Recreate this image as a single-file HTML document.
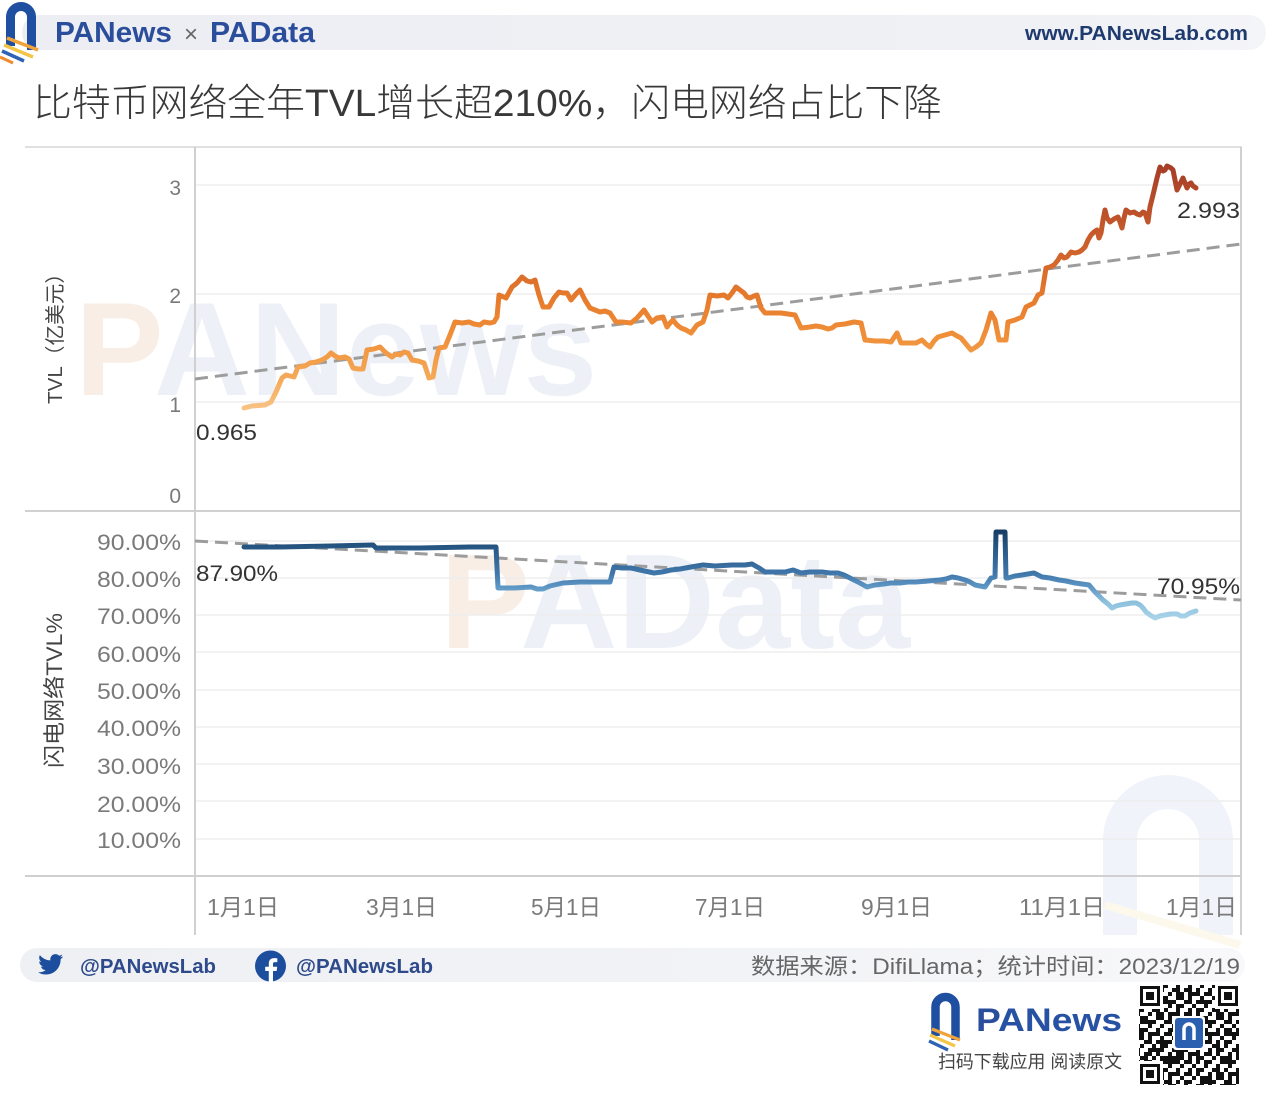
<!DOCTYPE html>
<html><head><meta charset="utf-8"><style>
html,body{margin:0;padding:0;background:#fff;}
svg{display:block;}
text{font-family:"Liberation Sans","Noto Sans CJK SC",sans-serif;}
</style></head><body>
<svg width="1267" height="1097" viewBox="0 0 1267 1097" xmlns="http://www.w3.org/2000/svg">
<defs>
<linearGradient id="hb" x1="0" y1="0" x2="1" y2="0"><stop offset="0" stop-color="#eceef3"/><stop offset="0.85" stop-color="#f0f1f5"/><stop offset="1" stop-color="#f4f5f8"/></linearGradient>
<linearGradient id="fb" x1="0" y1="0" x2="1" y2="0"><stop offset="0" stop-color="#eef0f4"/><stop offset="0.6" stop-color="#f2f3f6"/><stop offset="1" stop-color="#f8f8fa"/></linearGradient>
<linearGradient id="pg" x1="0" y1="0" x2="1" y2="0"><stop offset="0" stop-color="#2a4d9c"/><stop offset="0.3" stop-color="#2a4d9c"/><stop offset="0.3" stop-color="#e58b2b"/><stop offset="1" stop-color="#e58b2b"/></linearGradient>
<linearGradient id="go" gradientUnits="userSpaceOnUse" x1="0" y1="412" x2="0" y2="165">
<stop offset="0" stop-color="#f8c58a"/><stop offset="0.12" stop-color="#f5ac5c"/><stop offset="0.3" stop-color="#f0903a"/><stop offset="0.45" stop-color="#e77c2c"/><stop offset="0.65" stop-color="#cf622b"/><stop offset="1" stop-color="#a53d28"/>
</linearGradient>
<linearGradient id="gb" gradientUnits="userSpaceOnUse" x1="0" y1="620" x2="0" y2="530">
<stop offset="0" stop-color="#acd5ea"/><stop offset="0.2" stop-color="#8cc0dc"/><stop offset="0.38" stop-color="#5b93c2"/><stop offset="0.52" stop-color="#3f76a9"/><stop offset="0.75" stop-color="#2c5d8c"/><stop offset="1" stop-color="#163c64"/>
</linearGradient>
<pattern id="q1" width="12" height="12" patternUnits="userSpaceOnUse"><rect x="0" y="0" width="4" height="4" fill="#111"/><rect x="8" y="4" width="4" height="4" fill="#111"/><rect x="4" y="8" width="4" height="4" fill="#111"/></pattern>
<pattern id="q2" width="20" height="20" patternUnits="userSpaceOnUse"><rect x="4" y="0" width="8" height="4" fill="#111"/><rect x="16" y="8" width="4" height="8" fill="#111"/><rect x="0" y="16" width="4" height="4" fill="#111"/><rect x="8" y="12" width="4" height="4" fill="#111"/></pattern>
<pattern id="q3" width="28" height="28" patternUnits="userSpaceOnUse"><rect x="12" y="4" width="4" height="8" fill="#111"/><rect x="20" y="20" width="8" height="4" fill="#111"/><rect x="0" y="24" width="4" height="4" fill="#111"/><rect x="4" y="12" width="4" height="4" fill="#111"/></pattern>
</defs>

<!-- header -->
<rect x="22" y="15" width="1244" height="35" rx="17" fill="url(#hb)"/>
<g fill="none" stroke-linecap="butt">
<path d="M10.5,46 V17 A10.5,10.5 0 0 1 31.5,17 V50" stroke="#1f4fa0" stroke-width="9"/>
<line x1="7" y1="38" x2="38" y2="50" stroke="#f0a33a" stroke-width="3.5"/>
<line x1="4" y1="45" x2="33" y2="57" stroke="#f3c64a" stroke-width="3.5"/>
<line x1="2" y1="51" x2="24" y2="61" stroke="#2f62b3" stroke-width="3.5"/>
<line x1="0" y1="57" x2="13" y2="63" stroke="#f08a2a" stroke-width="3"/>
</g>
<text x="55" y="42" font-size="29" font-weight="bold" fill="#2a4d9c" textLength="117" lengthAdjust="spacingAndGlyphs"><tspan fill="url(#pg)">P</tspan>ANews</text>
<text x="184" y="42" font-size="24" fill="#666">×</text>
<text x="210" y="42" font-size="29" font-weight="bold" fill="#2a4d9c" textLength="105" lengthAdjust="spacingAndGlyphs"><tspan fill="url(#pg)">P</tspan>AData</text>
<text x="1025" y="40" font-size="20.5" font-weight="bold" fill="#1f3a6e" textLength="223" lengthAdjust="spacingAndGlyphs">www.PANewsLab.com</text>

<!-- title -->
<text x="33" y="116" font-size="38" fill="#383838" font-weight="300" textLength="909" lengthAdjust="spacingAndGlyphs">比特币网络全年TVL增长超210%，闪电网络占比下降</text>

<!-- watermarks -->
<text x="75" y="395" font-size="133" font-weight="bold" fill="#e9eef6" opacity="0.8"><tspan fill="#f8ebdf">P</tspan>ANews</text>
<text x="440" y="648" font-size="135" font-weight="bold" fill="#e9eef6" opacity="0.8"><tspan fill="#f8ebdf">P</tspan>AData</text>
<path d="M1120,935 V840 A48,48 0 0 1 1216,840 V935" fill="none" stroke="#f0f3f9" stroke-width="34"/>
<line x1="1105" y1="905" x2="1240" y2="945" stroke="#fdf8ec" stroke-width="8"/>

<!-- gridlines -->
<g stroke="#eeeeee" stroke-width="1.5">
<line x1="196" y1="185" x2="1240" y2="185"/><line x1="196" y1="294" x2="1240" y2="294"/><line x1="196" y1="402" x2="1240" y2="402"/>
<line x1="196" y1="541" x2="1240" y2="541"/><line x1="196" y1="578" x2="1240" y2="578"/><line x1="196" y1="615" x2="1240" y2="615"/><line x1="196" y1="652" x2="1240" y2="652"/><line x1="196" y1="690" x2="1240" y2="690"/><line x1="196" y1="727" x2="1240" y2="727"/><line x1="196" y1="764" x2="1240" y2="764"/><line x1="196" y1="801" x2="1240" y2="801"/><line x1="196" y1="839" x2="1240" y2="839"/>
</g>
<!-- frame -->
<g stroke="#d0d0d0" stroke-width="2">
<line x1="25" y1="147" x2="1242" y2="147" stroke="#e0e0e0"/>
<line x1="25" y1="511" x2="1242" y2="511"/>
<line x1="25" y1="876" x2="1242" y2="876"/>
<line x1="195" y1="147" x2="195" y2="935"/>
<line x1="1241" y1="147" x2="1241" y2="935"/>
</g>

<!-- y tick labels -->
<g font-size="21" fill="#7a7a7a" text-anchor="end">
<text x="181" y="195">3</text><text x="181" y="303">2</text><text x="181" y="412">1</text><text x="181" y="503">0</text>
</g>
<g font-size="22" fill="#7a7a7a">
<text x="97" y="550" textLength="84" lengthAdjust="spacingAndGlyphs">90.00%</text>
<text x="97" y="587" textLength="84" lengthAdjust="spacingAndGlyphs">80.00%</text>
<text x="97" y="624" textLength="84" lengthAdjust="spacingAndGlyphs">70.00%</text>
<text x="97" y="662" textLength="84" lengthAdjust="spacingAndGlyphs">60.00%</text>
<text x="97" y="699" textLength="84" lengthAdjust="spacingAndGlyphs">50.00%</text>
<text x="97" y="736" textLength="84" lengthAdjust="spacingAndGlyphs">40.00%</text>
<text x="97" y="774" textLength="84" lengthAdjust="spacingAndGlyphs">30.00%</text>
<text x="97" y="812" textLength="84" lengthAdjust="spacingAndGlyphs">20.00%</text>
<text x="97" y="848" textLength="84" lengthAdjust="spacingAndGlyphs">10.00%</text>
</g>
<!-- axis titles -->
<text transform="translate(62,404) rotate(-90)" font-size="20" fill="#444" textLength="141" lengthAdjust="spacingAndGlyphs">TVL（亿美元）</text>
<text transform="translate(62,768) rotate(-90)" font-size="22" fill="#444" textLength="155" lengthAdjust="spacingAndGlyphs">闪电网络TVL%</text>

<!-- x labels -->
<g font-size="23" fill="#7a7a7a">
<text x="207" y="915" textLength="72" lengthAdjust="spacingAndGlyphs">1月1日</text>
<text x="366" y="915" textLength="71" lengthAdjust="spacingAndGlyphs">3月1日</text>
<text x="531" y="915" textLength="70" lengthAdjust="spacingAndGlyphs">5月1日</text>
<text x="695" y="915" textLength="70" lengthAdjust="spacingAndGlyphs">7月1日</text>
<text x="861" y="915" textLength="71" lengthAdjust="spacingAndGlyphs">9月1日</text>
<text x="1019" y="915" textLength="86" lengthAdjust="spacingAndGlyphs">11月1日</text>
<text x="1166" y="915" textLength="71" lengthAdjust="spacingAndGlyphs">1月1日</text>
</g>

<!-- trend lines -->
<line x1="195" y1="379" x2="1241" y2="244" stroke="#9c9c9c" stroke-width="3" stroke-dasharray="13 7"/>
<line x1="195" y1="541" x2="1241" y2="600" stroke="#9c9c9c" stroke-width="3" stroke-dasharray="13 7"/>

<!-- TVL series -->
<polyline fill="none" stroke="url(#go)" stroke-width="5" stroke-linejoin="round" stroke-linecap="round" points="244,408 252,406 265,405 271,402 276,392 282,378 286,375 294,377 298,367 305,366 310,363 316,362 322,360 327,357 331,353 335,356 339,358 345,357 349,359 353,368 358,369 363,369 367,350 374,349 380,347 386,353 392,357 396,354 400,355 404,352 408,353 412,360 418,361 424,363 429,378 433,377 436,360 439,348 445,347 450,335 455,322 462,323 469,322 474,324 480,325 484,322 490,323 494,322 497,317 499,295 506,298 512,287 517,283 522,277 527,281 531,282 535,280 539,295 543,307 549,307 554,298 559,292 563,293 567,293 571,300 576,294 580,290 585,300 590,308 595,310 600,312 605,311 610,313 616,322 622,322 631,323 637,318 644,310 648,316 652,322 657,318 663,317 667,327 670,323 673,320 677,325 681,328 686,330 691,333 697,325 703,322 707,310 710,295 717,296 724,295 728,298 732,293 736,287 740,290 744,293 747,297 750,298 754,296 757,295 761,308 765,313 772,313 781,313 788,314 795,315 801,328 810,327 816,326 822,327 828,329 832,328 836,325 845,324 854,322 861,323 865,340 875,341 884,341 891,342 897,333 901,343 908,343 916,343 922,340 926,344 930,347 934,341 938,337 945,335 952,333 957,336 961,338 966,344 971,350 976,347 981,343 986,330 991,313 995,320 999,340 1006,340 1008,322 1015,320 1022,317 1026,307 1030,305 1034,303 1038,295 1042,293 1046,268 1050,267 1054,265 1058,260 1061,255 1064,258 1067,257 1071,252 1075,253 1079,252 1082,250 1085,247 1088,240 1091,235 1094,232 1097,230 1099,238 1101,233 1103,220 1105,210 1107,218 1110,222 1114,219 1118,217 1120,222 1122,228 1124,218 1126,210 1130,213 1134,212 1137,214 1140,215 1143,212 1145,213 1148,222 1150,207 1153,195 1157,178 1160,167 1163,171 1165,170 1167,166 1169,167 1171,168 1173,170 1175,180 1177,190 1180,184 1183,178 1185,183 1187,188 1189,184 1191,183 1193,186 1196,188"/>

<!-- Lightning share series -->
<polyline fill="none" stroke="url(#gb)" stroke-width="5" stroke-linejoin="round" stroke-linecap="round" points="244,547 280,547 331,546 373,545 376,548 420,548 470,547 496,547 498,588 515,588 531,587 537,589 543,589 550,586 563,583 580,582 595,582 610,582 614,567 622,568 631,568 640,570 654,573 662,572 671,570 680,569 691,567 703,565 715,566 732,565 745,565 752,564 759,568 765,572 775,572 785,572 793,570 801,573 810,572 822,572 830,573 838,573 844,575 850,578 858,582 867,587 875,585 884,584 891,583 900,583 908,582 916,582 928,581 940,580 946,579 952,577 958,578 965,580 970,582 975,585 980,586 985,587 991,578 995,577 996,532 1005,532 1006,578 1008,578 1015,576 1022,575 1028,574 1034,573 1042,577 1050,578 1059,580 1066,581 1075,583 1082,584 1089,585 1095,592 1099,596 1103,600 1108,604 1112,608 1116,606 1120,605 1126,604 1132,603 1136,603 1140,605 1143,608 1146,612 1150,615 1155,618 1160,616 1165,615 1171,614 1177,614 1181,616 1185,616 1190,613 1196,611"/>

<!-- data labels -->
<g font-size="22" fill="#333">
<text x="196" y="440" textLength="61" lengthAdjust="spacingAndGlyphs">0.965</text>
<text x="1177" y="218" textLength="63" lengthAdjust="spacingAndGlyphs">2.993</text>
<text x="196" y="581" textLength="82" lengthAdjust="spacingAndGlyphs">87.90%</text>
<text x="1157" y="594" textLength="83" lengthAdjust="spacingAndGlyphs">70.95%</text>
</g>

<!-- footer bar -->
<rect x="20" y="948" width="1225" height="34" rx="17" fill="url(#fb)"/>
<path d="M63,956.5 c-0.9,0.4 -1.9,0.7 -2.9,0.8 c1,-0.6 1.8,-1.6 2.2,-2.8 c-1,0.6 -2.1,1 -3.2,1.2 c-0.9,-1 -2.3,-1.6 -3.7,-1.6 c-2.8,0 -5.1,2.3 -5.1,5.1 c0,0.4 0,0.8 0.1,1.2 c-4.2,-0.2 -8,-2.2 -10.5,-5.3 c-0.4,0.8 -0.7,1.6 -0.7,2.6 c0,1.8 0.9,3.3 2.3,4.3 c-0.8,0 -1.6,-0.3 -2.3,-0.6 c0,2.5 1.8,4.6 4.1,5 c-0.4,0.1 -0.9,0.2 -1.4,0.2 c-0.3,0 -0.7,0 -1,-0.1 c0.6,2 2.5,3.5 4.8,3.6 c-1.8,1.4 -4,2.2 -6.4,2.2 c-0.4,0 -0.8,0 -1.2,-0.1 c2.3,1.5 5,2.3 7.9,2.3 c9.4,0 14.6,-7.8 14.6,-14.6 v-0.7 c1,-0.7 1.900,-1.6 2.6,-2.7z" fill="#1d4e9e"/>
<text x="80" y="973" font-size="20" font-weight="bold" fill="#2e4a8b" textLength="136" lengthAdjust="spacingAndGlyphs">@PANewsLab</text>
<circle cx="270.5" cy="966" r="15.5" fill="#1d4e9e"/>
<path d="M273,982 v-11 h3.6 l0.6,-4.2 h-4.2 v-2.7 c0,-1.2 0.4,-2 2.1,-2 h2.2 v-3.8 c-0.4,0 -1.7,-0.2 -3.2,-0.2 c-3.2,0 -5.3,1.9 -5.3,5.5 v3.2 h-3.6 v4.2 h3.6 v11z" fill="#fff"/>
<text x="296" y="973" font-size="20" font-weight="bold" fill="#2e4a8b" textLength="137" lengthAdjust="spacingAndGlyphs">@PANewsLab</text>
<text x="751" y="974" font-size="22" fill="#666" textLength="489" lengthAdjust="spacingAndGlyphs">数据来源：DifiLlama；统计时间：2023/12/19</text>

<!-- bottom logo -->
<g fill="none">
<path d="M935.5,1036 V1007 A10,10 0 0 1 955.5,1007 V1040" stroke="#1f4fa0" stroke-width="8.5"/>
<line x1="932" y1="1029" x2="960" y2="1040" stroke="#f0a33a" stroke-width="3.2"/>
<line x1="930" y1="1035" x2="955" y2="1046" stroke="#f3c64a" stroke-width="3.2"/>
<line x1="929" y1="1041" x2="948" y2="1050" stroke="#2f62b3" stroke-width="3.2"/>
</g>
<text x="976" y="1031" font-size="32" font-weight="bold" fill="#2751a3" textLength="146" lengthAdjust="spacingAndGlyphs"><tspan fill="url(#pg)">P</tspan>ANews</text>
<text x="938" y="1068" font-size="18" fill="#444" textLength="184" lengthAdjust="spacingAndGlyphs">扫码下载应用 阅读原文</text>

<!-- QR -->
<g>
<rect x="1139" y="985" width="100" height="100" fill="#fff"/>
<rect x="1139" y="985" width="100" height="100" fill="url(#q1)"/>
<rect x="1139" y="985" width="100" height="100" fill="url(#q2)"/>
<rect x="1139" y="985" width="100" height="100" fill="url(#q3)"/>
<g>
<rect x="1139" y="985" width="24" height="24" fill="#fff"/><rect x="1140" y="986" width="20" height="20" fill="#111"/><rect x="1143" y="989" width="14" height="14" fill="#fff"/><rect x="1146" y="992" width="8" height="8" fill="#111"/>
<rect x="1215" y="985" width="24" height="24" fill="#fff"/><rect x="1218" y="986" width="20" height="20" fill="#111"/><rect x="1221" y="989" width="14" height="14" fill="#fff"/><rect x="1224" y="992" width="8" height="8" fill="#111"/>
<rect x="1139" y="1061" width="24" height="24" fill="#fff"/><rect x="1140" y="1064" width="20" height="20" fill="#111"/><rect x="1143" y="1067" width="14" height="14" fill="#fff"/><rect x="1146" y="1070" width="8" height="8" fill="#111"/>
</g>
<rect x="1173" y="1016" width="32" height="34" rx="3" fill="#fff"/>
<rect x="1175" y="1018" width="28" height="30" rx="3" fill="#2b5fb0"/>
<path d="M1184,1040 V1029 A5,5 0 0 1 1194,1029 V1040" fill="none" stroke="#fff" stroke-width="3.5"/>
</g>
</svg>
</body></html>
